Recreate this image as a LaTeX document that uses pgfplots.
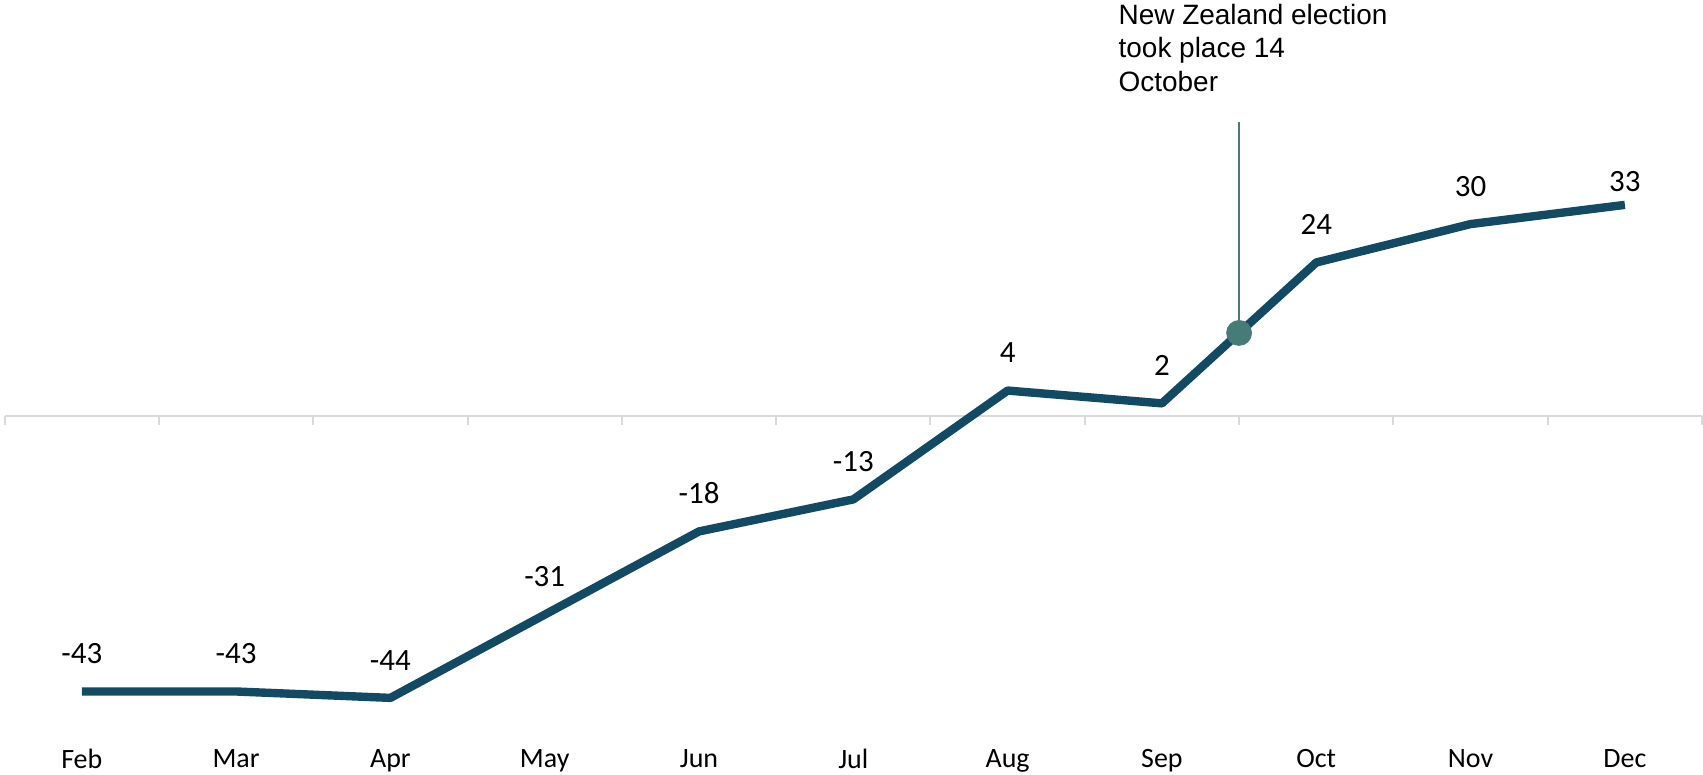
\documentclass[border=0pt]{standalone}
\usepackage{fontspec}
\setmainfont{Carlito}
\newfontfamily\annfont{Liberation Sans}
\usepackage{pgfplots}
\pgfplotsset{compat=1.18}
\definecolor{lineblue}{HTML}{124A63}
\definecolor{markteal}{HTML}{467B77}
\definecolor{zerogray}{HTML}{D9D9D9}
\begin{document}
\begin{tikzpicture}
\begin{axis}[
  scale only axis, width=852pt, height=375pt,
  xmin=-0.53, xmax=10.5, ymin=-52, ymax=65,
  axis line style={draw=none},
  tick style={draw=none},
  xtick={0,...,10},
  xticklabels={Feb,Mar,Apr,May,Jun,Jul,Aug,Sep,Oct,Nov,Dec},
  ytick=\empty,
  major tick length=0pt,
  xticklabel style={font=\fontsize{14}{16}\selectfont, inner sep=0pt, anchor=north, text depth=3pt},
  clip=false,
  every node near coord/.append style={anchor=south, inner sep=0pt,
    font=\fontsize{15.5}{18}\selectfont, text=black},
]
\addplot[zerogray, line width=1pt] coordinates {(-0.5,0) (10.5,0)};
\addplot[zerogray, line width=1pt, ycomb] coordinates {
  (-0.5,-1.4) (0.5,-1.4) (1.5,-1.4) (2.5,-1.4) (3.5,-1.4) (4.5,-1.4)
  (5.5,-1.4) (6.5,-1.4) (7.5,-1.4) (8.5,-1.4) (9.5,-1.4) (10.5,-1.4)};
\addplot[lineblue, line width=4.2pt, line join=round,
  nodes near coords, point meta=explicit symbolic,
  every node near coord/.append style={yshift=11.8pt}]
  coordinates {
  (0,-43) [-43]
  (1,-43) [-43]
  (2,-44) [-44]
  (3,-31) [-31]
  (4,-18) [-18]
  (5,-13) [-13]
  (6,4) [4]
  (7,2) [2]
  (8,24) [24]
  (9,30) [30]
  (10,33) []
  };
\addplot[draw=none, mark=none, nodes near coords, point meta=explicit symbolic,
  every node near coord/.append style={yshift=6.2pt}]
  coordinates {(10,33) [33]};
\addplot[markteal, line width=0.6pt] coordinates {(7.5,13) (7.5,45.9)};
\addplot[only marks, mark=*, mark size=6.25pt, mark options={draw=markteal, fill=markteal}]
  coordinates {(7.5,13)};
\node[anchor=north west, inner sep=0pt, align=left, xshift=-60.5pt, yshift=-1.8pt,
  font=\annfont\fontsize{14}{16.75}\selectfont] at (axis cs:7.5,65)
  {New Zealand election\\took place 14\\October};
\end{axis}
\end{tikzpicture}
\end{document}
